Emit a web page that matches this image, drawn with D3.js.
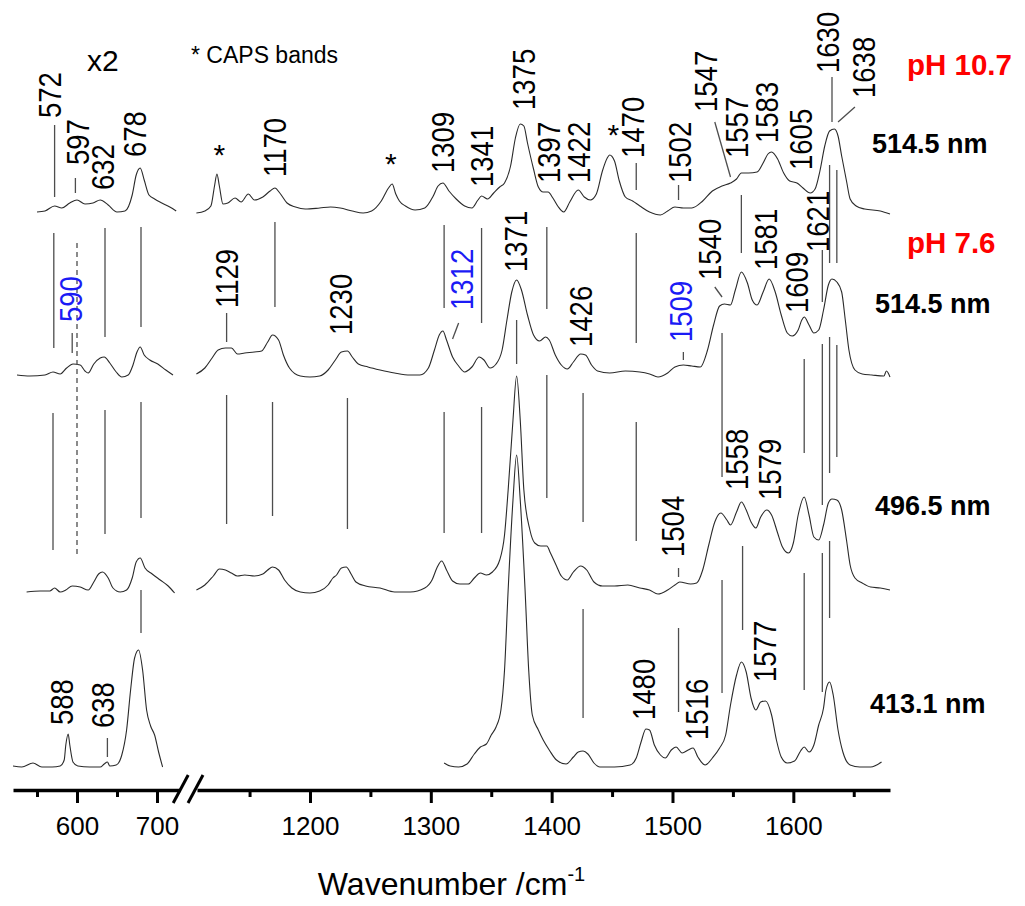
<!DOCTYPE html>
<html>
<head>
<meta charset="utf-8">
<script src="https://cdn.jsdelivr.net/npm/d3@7/dist/d3.min.js"></script>
<style>
    body { margin: 0; background: #fff; }
    svg { display: block; font-family: "Liberation Sans", Arial, Helvetica, sans-serif; }
</style>
</head>
<body>
<div id="root"></div>
<script>
// spectra: [wavenumber, intensity above the spectrum's own baseline]
// "low" = 520-730 window (x2), "high" = 1100-1680 window
const ph107_514_low = [[550,-2],[560,-1],[572,4],[581,2],[591,7],[600,10],[610,6],[620,7],[629,10],[639,5],[650,-2],[660,-1],[669,15],[674,35],[679,42],[684,30],[690,15],[697,11],[706,7],[716,3],[724,-1]];
const ph107_514_high = [[1106,-3],[1113,-1],[1118,4],[1121,24],[1123,36],[1125,24],[1128,6],[1132,7],[1138,12],[1143,8],[1149,16],[1154,10],[1161,13],[1167,19],[1171,22],[1175,17],[1181,7],[1188,3],[1196,1],[1208,2],[1217,3],[1225,2],[1235,-1],[1244,-3],[1251,-1],[1259,9],[1265,22],[1268,26],[1271,16],[1274,9],[1279,4],[1287,0],[1295,2],[1302,14],[1306,24],[1310,27],[1315,19],[1321,11],[1328,4],[1334,2],[1339,10],[1342,14],[1347,11],[1352,17],[1357,23],[1361,27],[1366,44],[1370,72],[1374,86],[1377,84],[1380,67],[1385,41],[1389,23],[1393,18],[1397,18],[1401,12],[1405,4],[1410,-2],[1415,8],[1422,20],[1427,13],[1432,10],[1437,16],[1442,39],[1446,52],[1448,55],[1452,49],[1456,29],[1461,13],[1467,9],[1473,4],[1481,-2],[1490,-5],[1496,-1],[1502,3],[1509,2],[1516,2],[1525,9],[1533,19],[1541,24],[1548,27],[1553,31],[1557,37],[1563,37],[1570,38],[1575,47],[1579,56],[1582,58],[1587,51],[1592,37],[1597,29],[1603,27],[1608,22],[1614,17],[1618,21],[1622,39],[1626,64],[1630,79],[1634,81],[1637,74],[1640,54],[1644,29],[1647,11],[1652,4],[1659,1],[1672,-1],[1680,-4]];

const ph76_514_low = [[525,0],[541,-1],[560,0],[570,3],[579,1],[587,7],[595,11],[604,10],[610,4],[614,2],[621,11],[629,17],[634,18],[641,12],[649,3],[656,-2],[664,0],[670,10],[675,23],[679,28],[684,20],[691,15],[701,11],[711,5],[720,0]];
const ph76_514_high = [[1106,1],[1113,7],[1119,17],[1124,25],[1130,27],[1135,27],[1140,21],[1146,22],[1154,23],[1160,24],[1165,33],[1169,40],[1174,35],[1178,20],[1183,7],[1192,-1],[1200,-2],[1208,-1],[1215,5],[1221,15],[1226,23],[1231,24],[1235,18],[1240,11],[1248,8],[1258,5],[1270,2],[1283,0],[1291,0],[1298,7],[1303,25],[1307,40],[1310,44],[1313,35],[1318,18],[1323,9],[1328,3],[1334,8],[1340,18],[1344,15],[1349,7],[1354,11],[1359,25],[1363,55],[1367,83],[1371,95],[1375,85],[1380,60],[1385,40],[1390,34],[1395,38],[1398,35],[1403,20],[1408,10],[1413,6],[1418,13],[1424,21],[1428,20],[1433,10],[1438,4],[1448,2],[1461,4],[1473,3],[1481,1],[1488,-2],[1496,2],[1502,8],[1509,10],[1516,9],[1523,8],[1529,25],[1534,50],[1539,69],[1543,71],[1548,70],[1552,85],[1557,103],[1562,92],[1566,75],[1570,70],[1575,83],[1580,96],[1585,83],[1590,60],[1595,42],[1599,39],[1604,45],[1607,55],[1609,58],[1613,50],[1617,42],[1621,45],[1625,65],[1629,90],[1632,96],[1636,93],[1640,83],[1643,55],[1646,25],[1651,5],[1657,1],[1665,0],[1675,-1],[1677,4],[1680,-2]];

const ph76_496_low = [[537,0],[554,1],[566,1],[572,4],[579,0],[586,2],[594,6],[604,5],[614,2],[621,10],[627,18],[632,20],[639,14],[645,4],[654,0],[662,2],[669,14],[674,30],[679,34],[685,24],[694,18],[704,12],[714,6],[722,-1]];
const ph76_496_high = [[1106,2],[1113,7],[1120,16],[1125,23],[1130,22],[1135,19],[1140,16],[1146,17],[1154,16],[1161,18],[1165,22],[1169,25],[1174,22],[1179,12],[1185,4],[1192,0],[1200,-1],[1208,1],[1215,7],[1219,14],[1222,17],[1226,24],[1230,25],[1234,18],[1238,10],[1246,6],[1258,4],[1270,0],[1283,0],[1295,4],[1301,12],[1305,24],[1309,31],[1313,22],[1318,11],[1324,8],[1331,8],[1336,14],[1341,19],[1346,17],[1351,20],[1357,32],[1361,57],[1364,102],[1368,172],[1371,216],[1374,172],[1377,102],[1382,62],[1386,49],[1391,46],[1396,46],[1399,39],[1404,26],[1408,16],[1413,12],[1418,20],[1424,26],[1429,22],[1435,10],[1442,6],[1452,6],[1463,7],[1473,4],[1481,2],[1488,-2],[1496,2],[1502,7],[1506,10],[1515,8],[1520,9],[1525,22],[1530,47],[1535,70],[1540,79],[1545,72],[1548,67],[1553,80],[1557,90],[1561,82],[1565,70],[1569,64],[1573,75],[1578,82],[1582,77],[1587,59],[1591,45],[1596,39],[1600,49],[1604,77],[1609,95],[1613,77],[1617,55],[1621,52],[1625,67],[1629,89],[1632,93],[1636,92],[1640,82],[1644,52],[1647,27],[1651,14],[1657,9],[1664,5],[1672,4],[1680,2]];

const ph76_413_low = [[520,1],[531,0],[545,4],[556,0],[569,0],[579,1],[584,7],[586,22],[589,33],[591,22],[595,5],[601,1],[616,0],[629,0],[634,3],[638,5],[641,1],[649,2],[656,12],[662,37],[667,77],[672,109],[677,117],[682,97],[687,57],[692,41],[697,32],[702,15],[707,0]];
const ph76_413_high = [[1311,4],[1316,1],[1323,0],[1330,3],[1336,13],[1341,20],[1346,23],[1350,32],[1354,40],[1358,57],[1361,97],[1364,177],[1368,267],[1371,312],[1374,267],[1378,177],[1381,97],[1384,52],[1389,37],[1393,27],[1398,17],[1404,7],[1412,3],[1418,10],[1422,15],[1426,16],[1430,13],[1435,4],[1440,0],[1452,0],[1465,2],[1470,9],[1474,25],[1478,38],[1481,37],[1485,22],[1490,12],[1494,9],[1499,17],[1503,20],[1508,14],[1513,17],[1517,19],[1521,10],[1527,2],[1533,9],[1539,19],[1544,32],[1548,62],[1553,92],[1557,105],[1561,95],[1565,69],[1569,57],[1573,65],[1577,66],[1582,52],[1586,27],[1590,10],[1595,4],[1601,6],[1606,16],[1609,20],[1613,15],[1617,22],[1621,42],[1625,59],[1627,77],[1630,85],[1633,72],[1637,37],[1641,15],[1647,2],[1655,0],[1664,0],[1673,5]];

// stacking offsets (same units as intensity), top to bottom
const stackOffsets = [580, 415, 198, 23];
const spectrumNames = ['514.5 nm', '514.5 nm', '496.5 nm', '413.1 nm'];
const phNames = ['pH 10.7', 'pH 7.6', '', ''];

// axis ticks
const lowMajor = [600, 700];
const lowMinor = [550, 650];
const highMajor = [1200, 1300, 1400, 1500, 1600];
const highMinor = [1150, 1250, 1350, 1450, 1550, 1650];

// band marker lines: [wavenumber, top, bottom] in the stacked intensity units
const bandLines = [
    [572,665,593],[598,612,597],[1470,627,600],[1505,605,590],[1632,713,668],
    [571,557,442],[635,562,453],[680,563,463],[594,457,437],[1131,477,448],[1171,568,483],[1311,565,482],[1342,562,467],[1371,470,426],[1396,563,481],[1470,557,447],[1509,438,430],[1557,595,537],[1624,540,488],[1630,625,527],[1636,620,527],
    [570,377,240],[635,380,256],[680,388,272],[1131,395,266],[1169,388,274],[1231,392,261],[1311,378,257],[1342,383,257],[1396,415,292],[1426,397,268],[1470,368,249],[1541,457,313],[1609,431,337],[1624,446,285],[1630,453,317],[1636,445,333],[1505,222,213],
    [680,200,157],[1426,181,72],[1505,162,78],[1541,210,97],[1558,244,160],[1609,217,100],[1624,237,98],[1630,249,172],[638,52,33]
];
const dashedLines = [[600,547,235]];
// slanted leaders: [wn1, v1, wn2, v2]
const leaderLines = [[1535,668,1548,613],[1651,683,1637,668],[1323,467,1318,451],[1535,503,1541,493]];

// band labels: [text, wavenumber, bottom of text]
const bandLabels = [
    ['572',565,672],['597',600,625],['632',632,600],['678',672,633],['1170',1171,613],['1309',1310,617],['1341',1342,603],['1375',1377,680],['1397',1397,607],['1422',1422,607],['1470',1467,632],['1502',1506,607],['1547',1527,678],['1557',1553,632],['1583',1578,647],['1605',1606,620],['1630',1628,717],['1638',1658,692],
    ['590',592,468],['1129',1131,482],['1230',1225,455],['1312',1325,480],['1371',1370,518],['1426',1424,443],['1509',1507,448],['1540',1531,510],['1581',1577,520],['1609',1603,477],['1621',1620,538],
    ['1504',1500,233],['1558',1553,300],['1579',1580,290],
    ['588',581,65],['638',632,62],['1480',1476,70],['1516',1520,50],['1577',1576,108]
];
const blueBands = ['590', '1312', '1509'];
// CAPS buffer bands: [wavenumber, centre]
const capsMarks = [[1125,642],[1267,633],[1451,662]];

const W = 1025, H = 906;

const svg = d3.select('#root').append('svg')
    .attr('width', W)
    .attr('height', H);

// broken x axis -> two linear scales
const xLow = d3.scaleLinear().domain([520, 729]).range([13, 180.2]);
const xHigh = d3.scaleLinear().domain([1106.5, 1680]).range([197, 890]);
const xPos = wn => wn < 900 ? xLow(wn) : xHigh(wn);
const y = d3.scaleLinear().domain([0, 780]).range([790, 10]);

// spectra
const line = d3.line()
    .x(d => xPos(d[0]))
    .y(d => d.y)
    .curve(d3.curveMonotoneX);

const spectra = [
    [ph107_514_low, ph107_514_high],
    [ph76_514_low, ph76_514_high],
    [ph76_496_low, ph76_496_high],
    [ph76_413_low, ph76_413_high]
];

const gSpec = svg.append('g');
spectra.forEach((parts, i) => {
    parts.forEach(pts => {
        const p = pts.map(d => { const o = [d[0], d[1]]; o.y = y(stackOffsets[i] + d[1]); return o; });
        gSpec.append('path')
            .attr('d', line(p))
            .attr('fill', 'none')
            .attr('stroke', '#2a2a2a')
            .attr('stroke-width', 1.1);
    });
});

// marker lines
const gLines = svg.append('g').attr('stroke', '#4d4d4d').attr('stroke-width', 1.3);
gLines.selectAll('line.band').data(bandLines).join('line')
    .attr('class', 'band')
    .attr('x1', d => xPos(d[0])).attr('x2', d => xPos(d[0]))
    .attr('y1', d => y(d[1])).attr('y2', d => y(d[2]));
gLines.selectAll('line.dash').data(dashedLines).join('line')
    .attr('class', 'dash')
    .attr('x1', d => xPos(d[0])).attr('x2', d => xPos(d[0]))
    .attr('y1', d => y(d[1])).attr('y2', d => y(d[2]))
    .attr('stroke-dasharray', '5,4');
gLines.selectAll('line.lead').data(leaderLines).join('line')
    .attr('class', 'lead')
    .attr('x1', d => xPos(d[0])).attr('y1', d => y(d[1]))
    .attr('x2', d => xPos(d[2])).attr('y2', d => y(d[3]));

// rotated band labels (narrowed a bit, the original font is condensed)
svg.append('g').selectAll('text').data(bandLabels).join('text')
    .attr('transform', d => `translate(${xPos(d[1])},${y(d[2])}) rotate(-90) scale(0.86,1)`)
    .attr('dy', '0.36em')
    .attr('font-size', 32)
    .attr('fill', d => blueBands.includes(d[0]) ? '#1b1bf5' : '#000')
    .text(d => d[0]);

svg.append('g').selectAll('text').data(capsMarks).join('text')
    .attr('x', d => xPos(d[0]))
    .attr('y', d => y(d[1]))
    .attr('dy', '0.57em')
    .attr('text-anchor', 'middle')
    .attr('font-size', 30)
    .text('*');

// spectrum names on the right
const nameRows = [153, 313, 515, 713];
const phRows = [75, 253];
spectrumNames.forEach((n, i) => {
    svg.append('text')
        .attr('x', i === 3 ? 870 : (i === 0 ? 872 : 875))
        .attr('y', nameRows[i])
        .attr('font-size', 27)
        .attr('font-weight', 'bold')
        .text(n);
    if (phNames[i]) {
        svg.append('text')
            .attr('x', 907)
            .attr('y', phRows[i])
            .attr('font-size', 29.5)
            .attr('font-weight', 'bold')
            .attr('fill', '#f00')
            .text(phNames[i]);
    }
});

svg.append('text').attr('x', 87).attr('y', 71).attr('font-size', 30).text('x2');
svg.append('text').attr('x', 191).attr('y', 63).attr('font-size', 23).text('* CAPS bands');

// x axis
const axisY = y(0);
const gAxis = svg.append('g').attr('transform', `translate(0,${axisY})`);

function drawAxis(scale, major, minor) {
    const gMaj = gAxis.append('g')
        .call(d3.axisBottom(scale).tickValues(major).tickFormat(d3.format('d'))
            .tickSize(13).tickPadding(14).tickSizeOuter(0))
        .attr('font-size', 26)
        .attr('font-family', null);
    gMaj.select('.domain').attr('stroke', '#000').attr('stroke-width', 3.5);
    gMaj.selectAll('.tick line').attr('stroke-width', 3);
    const gMin = gAxis.append('g')
        .call(d3.axisBottom(scale).tickValues(minor).tickSize(7).tickFormat('').tickSizeOuter(0));
    gMin.select('.domain').remove();
    gMin.selectAll('.tick line').attr('stroke-width', 3);
}
drawAxis(xLow, lowMajor, lowMinor);
drawAxis(xHigh, highMajor, highMinor);

// break marks //
const bx1 = xLow.range()[1], bx2 = xHigh.range()[0];
gAxis.append('line').attr('x1', bx1 - 7).attr('y1', 13).attr('x2', bx1 + 8).attr('y2', -15)
    .attr('stroke', '#000').attr('stroke-width', 3);
gAxis.append('line').attr('x1', bx2 - 9).attr('y1', 13).attr('x2', bx2 + 6).attr('y2', -15)
    .attr('stroke', '#000').attr('stroke-width', 3);

// axis title
const title = svg.append('text')
    .attr('x', (xLow.range()[0] + xHigh.range()[1]) / 2)
    .attr('y', 895)
    .attr('text-anchor', 'middle')
    .attr('font-size', 32);
title.append('tspan').text('Wavenumber /cm');
title.append('tspan').attr('font-size', 20).attr('dy', -14).text('-1');
</script>
</body>
</html>
